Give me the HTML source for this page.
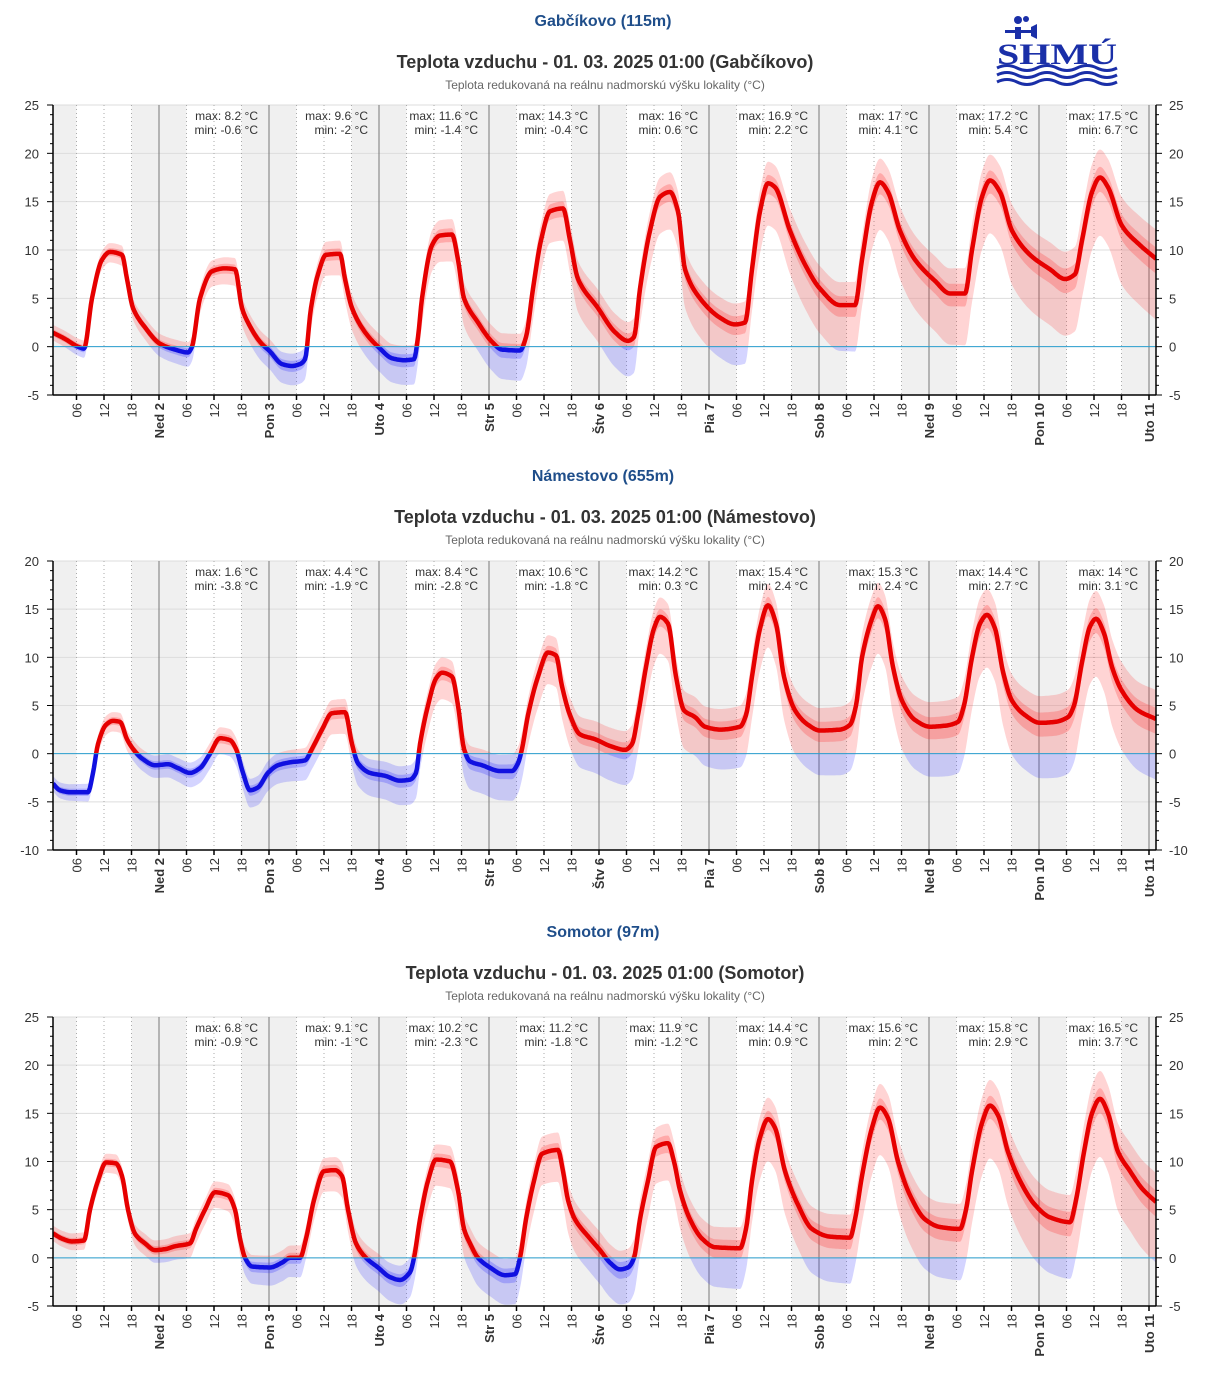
<!DOCTYPE html>
<html><head><meta charset="utf-8"><style>
body{margin:0;background:#fff;width:1205px;height:1379px;overflow:hidden;font-family:"Liberation Sans",Arial,sans-serif}
svg{position:absolute;left:0;top:0}
</style></head><body>
<svg id="s" width="1205" height="1379" xmlns="http://www.w3.org/2000/svg" font-family="Liberation Sans, Arial, sans-serif">
<g transform="translate(997,14)" fill="#1a2fa8">
<rect x="18" y="13" width="6" height="12"/><circle cx="21" cy="6" r="4"/><circle cx="29" cy="5" r="3"/><rect x="8" y="16" width="26" height="3"/><polygon points="34,13 40,10 40,25 34,22"/>
<text x="0" y="50" font-size="30" font-weight="bold" font-family="Liberation Serif, serif" textLength="120" lengthAdjust="spacingAndGlyphs">SHMÚ</text>
<path d="M0 54 q10 -5 20 0 t20 0 t20 0 t20 0 t20 0 t20 0" stroke="#1a2fa8" stroke-width="3" fill="none"/>
<path d="M0 61 q10 -5 20 0 t20 0 t20 0 t20 0 t20 0 t20 0" stroke="#1a2fa8" stroke-width="3" fill="none"/>
<path d="M0 68 q10 -5 20 0 t20 0 t20 0 t20 0 t20 0 t20 0" stroke="#1a2fa8" stroke-width="3" fill="none"/>
</g>
</svg>
<script>
var NS="http://www.w3.org/2000/svg",S=document.getElementById('s');
function el(t,a,p,txt){var e=document.createElementNS(NS,t);for(var k in a)e.setAttribute(k,a[k]);if(txt!==undefined)e.textContent=txt;(p||S).appendChild(e);return e;}
var X0=53,X1=1156;
function dx(h){return 159+(h-24)*110/24;}
var charts=[
{name:"Gabčíkovo (115m)",st:"Gabčíkovo",ty:20,top:105,bot:395,ymax:25,ymin:-5,
mm:[["8.2","-0.6"],["9.6","-2"],["11.6","-1.4"],["14.3","-0.4"],["16","0.6"],["16.9","2.2"],["17","4.1"],["17.2","5.4"],["17.5","6.7"]],
pts:[52,1.5,65,0.8,78,0,84,-0.2,92,5,102,9,110,9.8,122,9.5,127,7,133,4,145,2,160,0.3,175,-0.3,188,-0.6,192,0,200,5,212,7.8,225,8.1,235,8,242,4,248,2.5,260,0.5,270,-0.5,282,-1.8,292,-2,300,-1.8,305,-1.3,311,4,318,7.5,326,9.5,340,9.6,345,7,352,4,365,1.5,380,-0.2,392,-1.2,404,-1.4,414,-1.3,418,1,422,5,432,10.5,440,11.5,452,11.6,458,9,464,5,478,2.5,492,0.5,502,-0.3,520,-0.4,526,1,533,6,541,11,550,14,563,14.3,570,11,578,7,598,4,615,1.5,628,0.6,634,1,640,6,650,12,660,15.5,670,16,678,14,685,8,700,5,720,3,735,2.3,745,2.5,752,8,760,14,768,16.9,775,16.5,790,12,805,8.5,820,6,840,4.3,855,4.3,862,9,872,15,880,17,888,16,900,12,915,9,935,6.8,950,5.5,965,5.5,972,10,982,15.5,990,17.2,1000,16,1012,12,1030,9.5,1050,8,1065,7,1075,7.5,1082,11,1092,16,1100,17.5,1108,16.5,1122,12.5,1140,10.5,1156,9.1]},
{name:"Námestovo (655m)",st:"Námestovo",ty:475,top:561,bot:850,ymax:20,ymin:-10,
mm:[["1.6","-3.8"],["4.4","-1.9"],["8.4","-2.8"],["10.6","-1.8"],["14.2","0.3"],["15.4","2.4"],["15.3","2.4"],["14.4","2.7"],["14","3.1"]],
pts:[52,-3,60,-3.8,70,-4,88,-4,93,-2,98,1,106,3,113,3.4,120,3.3,127,1.5,133,0.5,142,-0.5,155,-1.2,168,-1.1,178,-1.5,190,-2,200,-1.5,210,0,220,1.6,230,1.4,236,0.5,243,-2,250,-3.8,258,-3.5,268,-2,278,-1.2,290,-0.9,305,-0.7,312,0.5,322,2.5,332,4.2,345,4.3,352,1,358,-1,370,-2,385,-2.3,400,-2.8,410,-2.7,416,-2,420,1,428,5,436,7.8,442,8.4,452,8,458,5,464,0.5,470,-0.8,482,-1.2,500,-1.8,512,-1.8,518,-1,522,0.5,528,4,538,8,548,10.5,556,10.2,562,7,570,4,580,2,595,1.5,610,0.8,625,0.4,632,1,638,4,646,9,654,13,660,14.2,668,13.5,676,8,684,4.5,695,3.8,705,2.8,720,2.5,740,2.8,746,4,752,8,760,13,768,15.4,776,13.5,784,8,795,4.5,808,3,820,2.4,840,2.5,850,3,856,5,862,10,872,14,878,15.3,885,14,893,9,902,5.5,915,3.5,930,2.8,945,2.9,958,3.3,964,5,972,10,980,13.5,987,14.4,995,13,1003,8.5,1012,5.5,1025,4,1040,3.2,1055,3.3,1068,3.8,1074,5,1082,9.5,1090,13.2,1096,14,1104,12.5,1112,9,1122,6.5,1138,4.5,1156,3.6]},
{name:"Somotor (97m)",st:"Somotor",ty:931,top:1017,bot:1306,ymax:25,ymin:-5,
mm:[["6.8","-0.9"],["9.1","-1"],["10.2","-2.3"],["11.2","-1.8"],["11.9","-1.2"],["14.4","0.9"],["15.6","2"],["15.8","2.9"],["16.5","3.7"]],
pts:[52,2.6,62,2,72,1.7,84,1.8,90,5,98,8,106,9.9,116,9.8,122,8.5,128,5,135,2.5,145,1.5,155,0.8,165,0.9,175,1.2,190,1.5,196,3,205,5,215,6.8,228,6.5,235,5,240,2,245,0,252,-0.9,270,-1,282,-0.5,290,0,300,0,306,2,314,6,324,9,335,9.1,342,8.5,348,5,356,1.5,366,0,378,-1,390,-2,400,-2.3,410,-1.5,414,0,420,4,428,8,436,10.2,450,10,458,7,464,3,470,1.5,478,0,490,-1,505,-1.8,515,-1.7,520,0,526,4,534,8,542,10.8,558,11.2,563,9,568,6,575,4,590,2,600,0.8,610,-0.5,620,-1.2,628,-1,634,0,640,4,648,8,656,11.5,668,11.9,674,10,680,7,690,4,702,2,715,1.1,740,1,746,3,752,8,760,12.5,768,14.4,775,13.5,785,9,798,5.5,812,3,830,2.2,850,2.1,855,4,862,8.5,872,13.5,880,15.6,888,14.5,898,10,910,6.5,925,4,940,3.2,960,3,966,5,972,9,982,14,990,15.8,998,14.8,1008,11,1020,8,1035,5.5,1050,4.2,1070,3.7,1076,6,1084,11,1092,15,1100,16.5,1108,15,1118,11,1130,9,1142,7.2,1156,5.8]}
];
var days=["Ned 2","Pon 3","Uto 4","Str 5","Štv 6","Pia 7","Sob 8","Ned 9","Pon 10","Uto 11"];
function interp(p){
 var xs=[],vs=[];for(var i=0;i<p.length;i+=2){xs.push(p[i]);vs.push(p[i+1]);}
 var out=[];var n=xs.length;
 var m=[];for(var i=0;i<n;i++){var a=i>0?(vs[i]-vs[i-1])/(xs[i]-xs[i-1]):0,b=i<n-1?(vs[i+1]-vs[i])/(xs[i+1]-xs[i]):0;
  if(i==0)m.push(b);else if(i==n-1)m.push(a);else m.push(a*b<=0?0:2/(1/a+1/b));}
 for(var x=X0;x<=X1;x++){var k=0;while(k<n-2&&x>xs[k+1])k++;var h=xs[k+1]-xs[k],t=Math.max(0,Math.min(1,(x-xs[k])/h));
  var t2=t*t,t3=t2*t;var v=(2*t3-3*t2+1)*vs[k]+(t3-2*t2+t)*h*m[k]+(-2*t3+3*t2)*vs[k+1]+(t3-t2)*h*m[k+1];out.push([x,v]);}
 return out;}
charts.forEach(function(c,ci){
 var Y=function(v){return c.top+(c.ymax-v)*(c.bot-c.top)/(c.ymax-c.ymin);};
 var g=el('g',{});
 el('text',{x:603,y:c.ty+6,'text-anchor':'middle','font-size':16,'font-weight':'bold',fill:'#1f4e8a'},g,c.name);
 el('text',{x:605,y:c.ty+48,'text-anchor':'middle','font-size':18,'font-weight':'bold',fill:'#333'},g,"Teplota vzduchu - 01. 03. 2025 01:00 ("+c.st+")");
 el('text',{x:605,y:c.ty+69,'text-anchor':'middle','font-size':12,fill:'#666'},g,"Teplota redukovaná na reálnu nadmorskú výšku lokality (°C)");
 for(var h=-24;h<24*11;h+=24){var a=Math.max(X0,dx(h+18)),b=Math.min(X1,dx(h+30));if(b>a)el('rect',{x:a,y:c.top,width:b-a,height:c.bot-c.top,fill:'#f0f0f0'},g);}
 for(var v=c.ymin;v<=c.ymax;v+=5){el('line',{x1:X0,x2:X1,y1:Y(v),y2:Y(v),stroke:'#ddd','stroke-width':1},g);}
 for(var h=6;h<24*11;h+=6){var x=dx(h);if(x<X0||x>X1)continue;
  if(h%24==0)el('line',{x1:x,x2:x,y1:c.top,y2:c.bot,stroke:'#777','stroke-width':1},g);
  else el('line',{x1:x,x2:x,y1:c.top,y2:c.bot,stroke:'#aaa','stroke-width':1,'stroke-dasharray':'1,3'},g);}
 var d=interp(c.pts);
 var cid='c'+ci,y0=Y(0);
 var defs=el('defs',{},g);
 var ca=el('clipPath',{id:cid+'a'},defs);el('rect',{x:0,y:0,width:1205,height:y0},ca);
 var cb=el('clipPath',{id:cid+'b'},defs);el('rect',{x:0,y:y0,width:1205,height:1400},cb);
 var cp=el('clipPath',{id:cid+'p'},defs);el('rect',{x:X0,y:c.top,width:X1-X0,height:c.bot-c.top},cp);
 function band(fu,fl){var up=d.map(function(q){return q[0]+','+Y(fu(q)).toFixed(1);});var lo=d.slice().reverse().map(function(q){return q[0]+','+Y(fl(q)).toFixed(1);});return 'M'+up.join('L')+'L'+lo.join('L')+'Z';}
 var dd=function(q){return (q[0]-X0)/110;};
 var outer=band(function(q){return q[1]+0.8+0.22*dd(q);},function(q){return q[1]-0.8-0.55*dd(q);});
 var inner=band(function(q){return q[1]+0.35+0.08*dd(q);},function(q){return q[1]-0.35-0.12*dd(q);});
 var line='M'+d.map(function(q){return q[0]+','+Y(q[1]).toFixed(1);}).join('L');
 var gp=el('g',{'clip-path':'url(#'+cid+'p)'},g);
 [['a','255,40,40','#e60000'],['b','40,40,255','#1010e0']].forEach(function(s){
  var gg=el('g',{'clip-path':'url(#'+cid+s[0]+')'},gp);
  el('path',{d:outer,fill:'rgba('+s[1]+',0.2)'},gg);
  el('path',{d:inner,fill:'rgba('+s[1]+',0.25)'},gg);
  el('path',{d:line,fill:'none',stroke:s[2],'stroke-width':4.5,'stroke-linejoin':'round'},gg);
 });
 el('line',{x1:X0,x2:X1,y1:y0,y2:y0,stroke:'#2a9fd0','stroke-width':1},g);
 c.mm.forEach(function(m,i){var x=159+110*i+99;
  el('text',{x:x,y:c.top+15,'text-anchor':'end','font-size':12,fill:'#333'},g,'max: '+m[0]+' °C');
  el('text',{x:x,y:c.top+29,'text-anchor':'end','font-size':12,fill:'#333'},g,'min: '+m[1]+' °C');});
 el('line',{x1:X0,x2:X0,y1:c.top,y2:c.bot,stroke:'#000','stroke-width':1.5},g);
 el('line',{x1:X1,x2:X1,y1:c.top,y2:c.bot,stroke:'#000','stroke-width':1.5},g);
 el('line',{x1:X0,x2:X1,y1:c.bot,y2:c.bot,stroke:'#000','stroke-width':1.5},g);
 for(var v=c.ymin;v<=c.ymax;v++){var y=Y(v),big=v%5==0;
  el('line',{x1:X0-(big?6:3),x2:X0,y1:y,y2:y,stroke:'#000','stroke-width':1},g);
  el('line',{x1:X1,x2:X1+(big?6:3),y1:y,y2:y,stroke:'#000','stroke-width':1},g);
  if(big){el('text',{x:X0-14,y:y+5,'text-anchor':'end','font-size':13,fill:'#333'},g,v);
   el('text',{x:X1+13,y:y+5,'font-size':13,fill:'#333'},g,v);}}
 for(var h=6;h<24*11;h+=6){var x=dx(h);if(x<X0||x>X1+2)continue;x=Math.min(x,X1-5);
  el('line',{x1:x,x2:x,y1:c.bot,y2:c.bot+5,stroke:'#000','stroke-width':1.5},g);
  var isDay=h%24==0,lab=isDay?days[h/24-1]:(h%24<10?'0':'')+(h%24);
  el('text',{transform:'translate('+(x+5)+','+(c.bot+8)+') rotate(-90)','text-anchor':'end','font-size':13,'font-weight':isDay?'bold':'normal',fill:'#333'},g,lab);}
});
</script>
</body></html>
